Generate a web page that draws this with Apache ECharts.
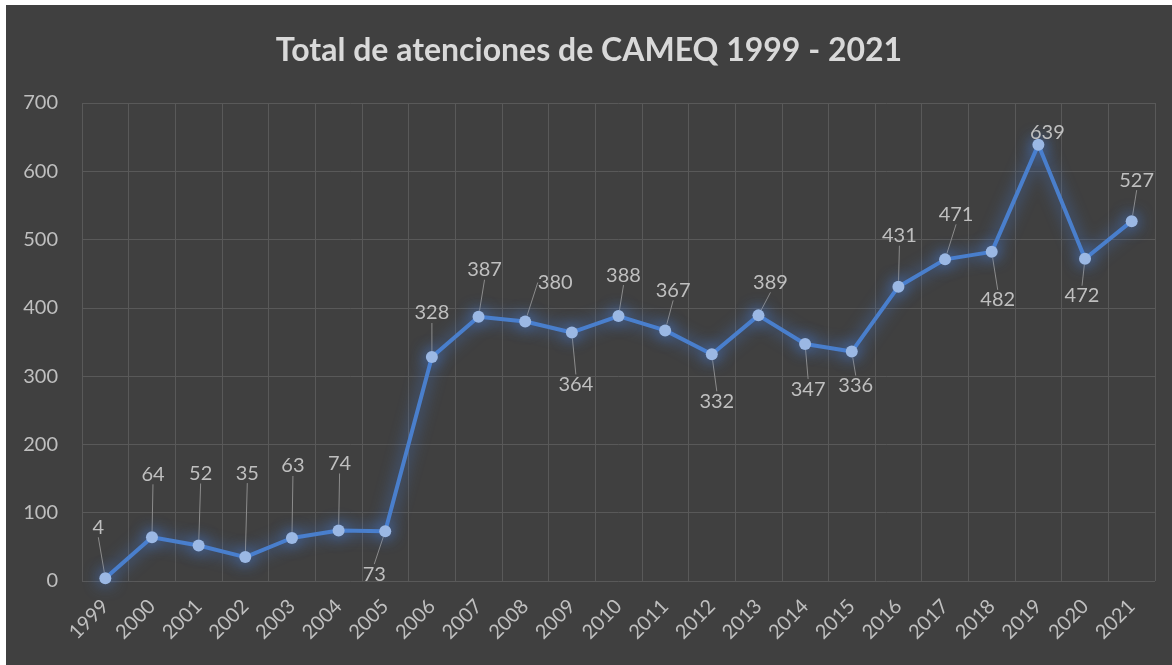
<!DOCTYPE html>
<html>
<head>
<meta charset="utf-8">
<script src="https://cdn.jsdelivr.net/npm/echarts@6/dist/echarts.min.js"></script>
<style>
  html, body { margin:0; padding:0; background:#fff; }
  #chart { position:absolute; left:6px; top:5px; width:1166px; height:660px; background:#404040; }
</style>
</head>
<body>
<div id="chart"></div>
<script>
const years = ['1999','2000','2001','2002','2003','2004','2005','2006','2007','2008','2009','2010',
  '2011','2012','2013','2014','2015','2016','2017','2018','2019','2020','2021'];
const atenciones = [4, 64, 52, 35, 63, 74, 73, 328, 387, 380, 364, 388, 367, 332, 389, 347, 336, 431, 471, 482, 639, 472, 527];
const yTicks = [0, 100, 200, 300, 400, 500, 600, 700];

// label offsets from each point (px), as in the original
const labelShift = [[-7,-51],[1,-63],[2,-72],[2,-84],[1,-72],[1,-67],[-11,43],[0,-44],[6,-47],[30,-39],
  [4,52],[5,-41],[8,-40],[5,47],[12,-33],[3,45],[4,34],[1,-51],[11,-45],[6,48],[9,-12],[-3,37],[5,-41]];

const chart = echarts.init(document.getElementById('chart'));
const font = 'Lato, "Open Sans", sans-serif';

chart.setOption({
  backgroundColor: '#404040',
  animation: false,
  title: {
    text: 'Total de atenciones de CAMEQ 1999 - 2021',
    left: 'center', top: 25,
    textStyle: { color: '#d9d9d9', fontSize: 32, fontWeight: 'bold', fontFamily: font }
  },
  grid: { left: 76, right: 17, top: 98, bottom: 84 },
  xAxis: {
    type: 'category', data: years, boundaryGap: true,
    axisLine: { show: false }, axisTick: { show: false },
    axisLabel: { color: '#bfbfbf', fontSize: 20, rotate: 45, margin: 22, fontFamily: font, interval: 0 },
    splitLine: { show: true, interval: 0, lineStyle: { color: '#595959', width: 1 } }
  },
  yAxis: {
    type: 'value', min: 0, max: 700, interval: 100,
    axisLine: { show: false }, axisTick: { show: false },
    axisLabel: { color: '#bfbfbf', fontSize: 20, margin: 24, fontFamily: font,
      formatter: v => yTicks.includes(v) ? String(v) : '' },
    splitLine: { lineStyle: { color: '#595959', width: 1 } }
  },
  series: [{
    type: 'line',
    data: atenciones.map((v, i) => ({ value: v, labelLine: { show: i !== 20 } })),
    symbol: 'circle', symbolSize: 12,
    lineStyle: { color: '#4a7fcc', width: 4, shadowColor: 'rgba(70,130,230,0.85)', shadowBlur: 16 },
    itemStyle: { color: '#9bb8e4', shadowColor: 'rgba(70,130,230,0.9)', shadowBlur: 16 },
    label: { show: true, position: 'inside', color: '#bfbfbf', fontSize: 20, fontFamily: font },
    labelLine: { show: true, lineStyle: { color: '#8c8c8c', width: 1 } },
    labelLayout: p => {
      const s = labelShift[p.dataIndex];
      return { dx: s[0], dy: s[1] };
    }
  }]
});
</script>
</body>
</html>
